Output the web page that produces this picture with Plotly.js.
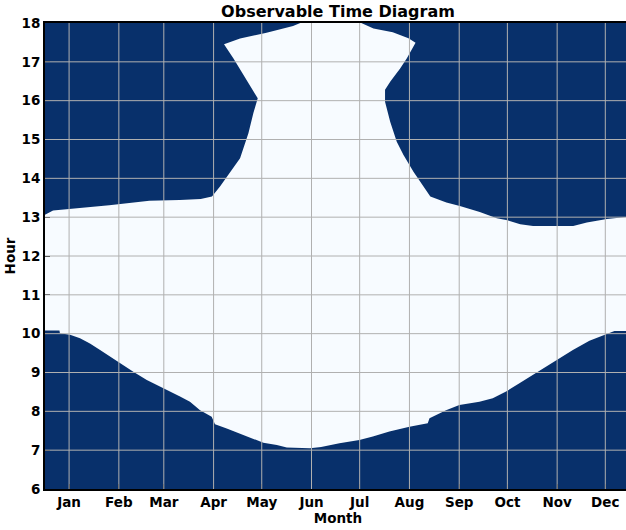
<!DOCTYPE html>
<html>
<head>
<meta charset="utf-8">
<script src="https://cdn.plot.ly/plotly-3.0.1.min.js"></script>
<style>
html,body{margin:0;padding:0;overflow:hidden;background:#fff;}
#chart{width:640px;height:530px;}
</style>
</head>
<body>
<div id="chart"></div>
<script>
// Month tick positions (day of year) and labels
const monthTickDays = [15, 46, 74, 105, 135, 166, 196, 227, 258, 288, 319, 349];
const monthLabels = ["Jan","Feb","Mar","Apr","May","Jun","Jul","Aug","Sep","Oct","Nov","Dec"];
const hourTicks = [6,7,8,9,10,11,12,13,14,15,16,17,18];

// Lower (morning) edge of observable region, left to right
const lowerDay  = [0, 9, 9.3, 15.6, 21.8, 28, 34.3, 40.5, 46.7, 55, 63.4, 71.7, 77.9, 84.1, 90.3, 96.6, 103.8, 105.9, 113.2, 121.5, 129.8, 136, 144.4, 150.6, 165, 172, 183.4, 195.8, 204.2, 214.5, 227, 238.4, 239.5, 249.8, 258.1, 270.6, 278.9, 287.2, 295.5, 303.9, 312.1, 318.4, 328.8, 339.1, 349.5, 354.7, 365];
const lowerHour = [10.08, 10.08, 10.01, 9.97, 9.88, 9.75, 9.58, 9.41, 9.24, 9.02, 8.81, 8.63, 8.51, 8.38, 8.25, 8.03, 7.86, 7.67, 7.56, 7.42, 7.29, 7.19, 7.13, 7.07, 7.05, 7.08, 7.18, 7.26, 7.35, 7.48, 7.60, 7.69, 7.82, 8.03, 8.16, 8.25, 8.34, 8.51, 8.72, 8.94, 9.15, 9.32, 9.58, 9.82, 9.99, 10.07, 10.07];

// Upper (evening) edge of observable region, traced left to right
const upperDay  = [0, 5, 20, 40, 65, 84, 97, 104, 109, 115, 121.5, 126.7, 129.8, 132.5, 125.7, 120.4, 117.3, 111.5, 121.5, 138, 154.5, 159, 197, 204.6, 216.6, 226.4, 230.8, 225.4, 221.2, 215, 211.8, 211.8, 215, 219.1, 223.3, 229.5, 234.5, 240, 250, 258.4, 270.8, 281.4, 287.2, 296, 304, 329, 337.5, 350, 365];
const upperHour = [13.06, 13.17, 13.23, 13.31, 13.42, 13.44, 13.47, 13.53, 13.79, 14.13, 14.52, 15.16, 15.68, 16.06, 16.49, 16.88, 17.09, 17.45, 17.6, 17.75, 17.92, 18, 18, 17.86, 17.76, 17.61, 17.49, 17.09, 16.83, 16.49, 16.28, 15.97, 15.46, 14.94, 14.6, 14.17, 13.85, 13.53, 13.38, 13.29, 13.13, 12.97, 12.93, 12.82, 12.77, 12.77, 12.86, 12.95, 13.02];

const DARK = '#08306b';
const LIGHT = '#f7fbff';
const GRID = '#b0b0b0';

const polyX = lowerDay.concat(upperDay.slice().reverse());
const polyY = lowerHour.concat(upperHour.slice().reverse());

const trace = {
  type: 'scatter',
  mode: 'lines',
  x: polyX,
  y: polyY,
  fill: 'toself',
  fillcolor: LIGHT,
  line: {width: 0, color: LIGHT},
  hoverinfo: 'skip',
  showlegend: false
};

const shapes = [];
monthTickDays.forEach(d => shapes.push({type:'line', xref:'x', yref:'paper', x0:d, x1:d, y0:0, y1:1, layer:'above', line:{color:GRID, width:1}}));
hourTicks.slice(1, -1).forEach(h => shapes.push({type:'line', xref:'paper', yref:'y', x0:0, x1:1, y0:h, y1:h, layer:'above', line:{color:GRID, width:1}}));

const font = {family: 'DejaVu Sans', size: 13.5, color: '#000', weight: 'bold'};

const layout = {
  width: 640, height: 530,
  margin: {l: 45, r: 9, t: 23, b: 41},
  paper_bgcolor: '#ffffff',
  plot_bgcolor: DARK,
  title: {text: 'Observable Time Diagram', font: {family: 'DejaVu Sans', size: 16, color: '#000', weight: 'bold'}, x: 0.5, xanchor: 'center', y: 0.979, yanchor: 'middle', xref: 'paper'},
  xaxis: {
    range: [0, 365], tickvals: monthTickDays, ticktext: monthLabels,
    showgrid: false, zeroline: false,
    showline: true, linecolor: '#000', linewidth: 2, mirror: true,
    ticks: 'inside', ticklen: 5, tickwidth: 1, tickcolor: '#000',
    tickfont: font,
    title: {text: 'Month', font: font, standoff: 0}
  },
  yaxis: {
    range: [6, 18], tickvals: hourTicks,
    showgrid: false, zeroline: false,
    showline: true, linecolor: '#000', linewidth: 2, mirror: true,
    ticks: 'inside', ticklen: 5, tickwidth: 1, tickcolor: '#000',
    tickfont: font,
    title: {text: 'Hour', font: font, standoff: 3}
  },
  shapes: shapes
};

Plotly.newPlot('chart', [trace], layout, {displayModeBar: false, staticPlot: true});
</script>
</body>
</html>
